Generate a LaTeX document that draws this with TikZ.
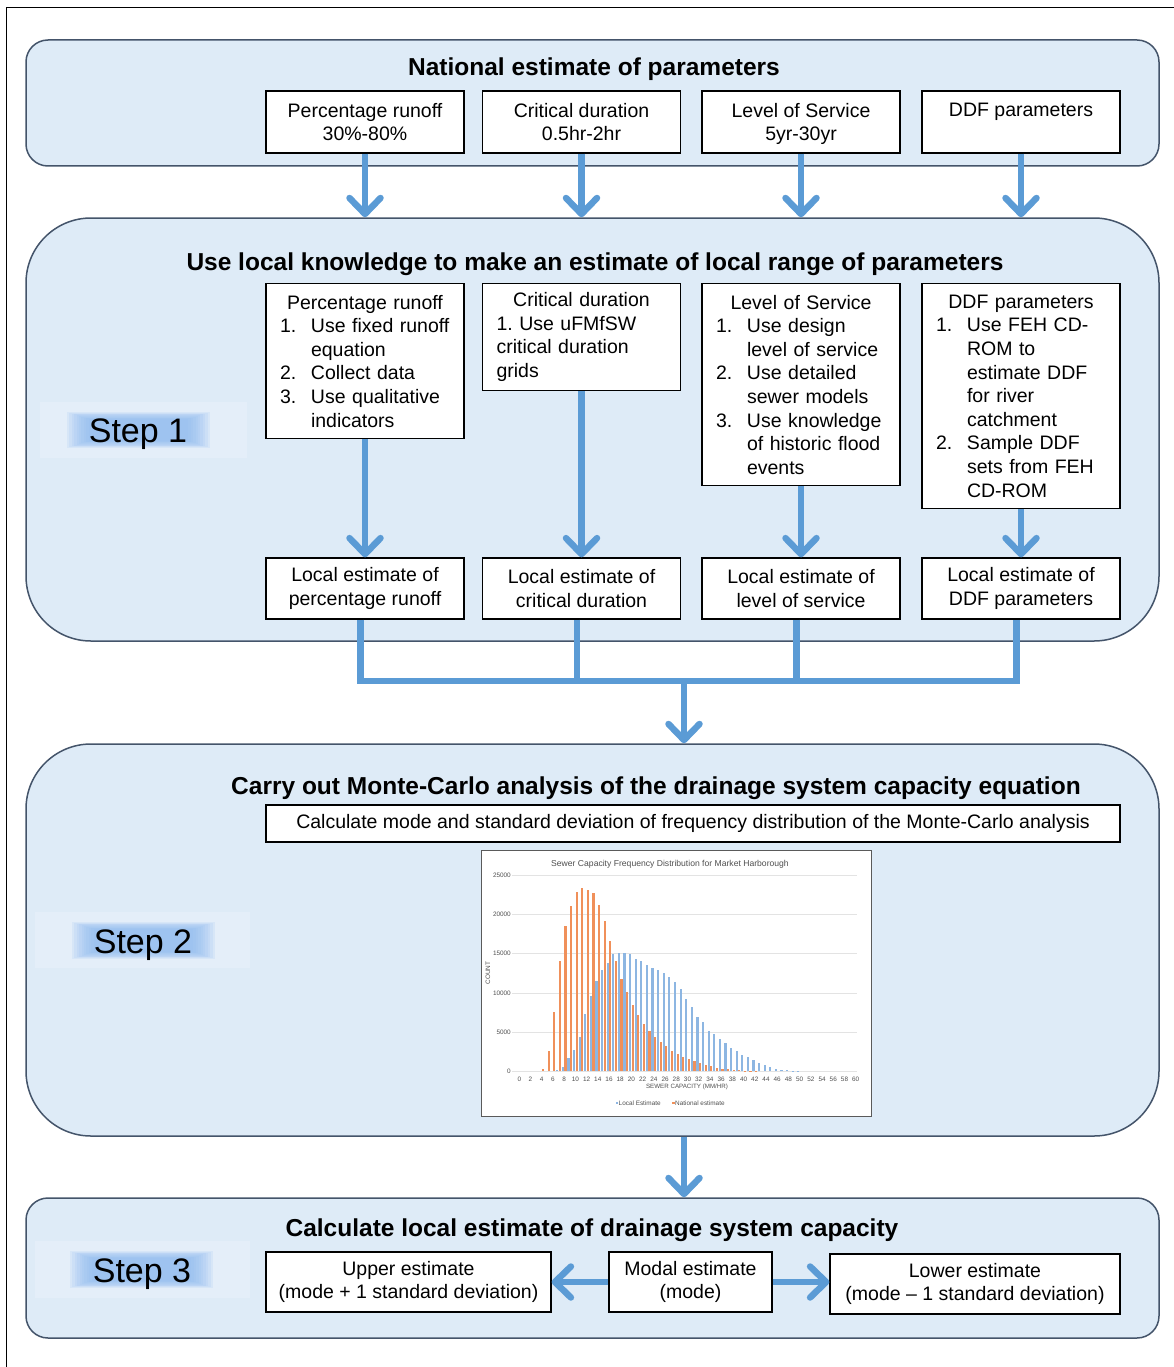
\documentclass[tikz,border=0pt]{standalone}
\usepackage{fontspec}
\setmainfont{Liberation Sans}
\usetikzlibrary{arrows.meta}
\definecolor{panelfill}{HTML}{DEEBF7}
\definecolor{paneldraw}{HTML}{44546A}
\definecolor{arrowblue}{HTML}{5B9BD5}
\definecolor{glowblue}{HTML}{8DBBF0}
\definecolor{glowouter}{HTML}{E4EEF9}
\definecolor{barblue}{HTML}{8DB6E2}
\definecolor{barorange}{HTML}{F0905A}
\definecolor{gridgray}{HTML}{E3E3E3}
\definecolor{chartborder}{HTML}{5A5A5A}
\definecolor{charttext}{HTML}{505050}
\newcommand\boxctr[1]{\makebox[198pt]{#1}}
\newcommand\boxitem[2]{\hspace*{14pt}\makebox[31pt][l]{#1}#2}
\newcommand\boxcont[1]{\hspace*{45pt}#1}
\newcommand\nodepth[1]{\raisebox{0pt}[\height][0pt]{#1}}
\tikzset{
  panel/.style={draw=paneldraw, line width=1.5pt, fill=panelfill, inner sep=0pt, minimum width=1133pt},
  box/.style={draw=black, line width=1.3pt, fill=white, inner sep=0pt, minimum width=198pt,
    font=\fontsize{19.5}{23.6}\selectfont, align=center},
  listbox/.style={box, text width=198pt, align=left},
  ptitle/.style={font=\fontsize{24.5}{29}\selectfont\bfseries, inner sep=0pt, anchor=base},
  steplabel/.style={font=\fontsize{34}{40}\selectfont, inner sep=0pt, anchor=base},
  conn/.style={draw=arrowblue, line width=6.5pt},
  flow/.style={conn, -{Straight Barb[length=16pt,width=31pt,round]}},
  tiny/.style={font=\fontsize{6.4}{7.5}\selectfont, text=charttext, inner sep=0pt},
  glowlayer/.style={fill=glowblue, opacity=0.14}
}
\begin{document}
\begin{tikzpicture}[x=1pt,y=-1pt]
\useasboundingbox (0,0) rectangle (1174,1367);
% outer frame
\draw[line width=1pt] (6,1367) -- (6,8) -- (1174,8);

% panels
\node[panel, minimum height=126pt, rounded corners=22pt] (p1) at (592.5,103) {};
\node[panel, minimum height=423pt, rounded corners=65pt] (p2) at (592.5,429.5) {};
\node[panel, minimum height=392pt, rounded corners=65pt] (p3) at (592.5,940) {};
\node[panel, minimum height=140pt, rounded corners=22pt] (p4) at (592.5,1268) {};

% titles
\node[ptitle] (t1) at (594,76) {National estimate of parameters};
\node[ptitle] (t2) at (595,270) {Use local knowledge to make an estimate of local range of parameters};
\node[ptitle] (t3) at (656,794) {Carry out Monte-Carlo analysis of the drainage system capacity equation};
\node[ptitle] (t4) at (592,1236) {Calculate local estimate of drainage system capacity};

% step labels
\fill[glowouter] (40,402) rectangle (247,458);
\foreach \i in {0,...,9} \fill[glowlayer] ({67+2.4*\i},{412+0.8*\i}) rectangle ({210-2.4*\i},{448-0.8*\i});
\node[steplabel] (s1) at (138,442) {Step 1};
\fill[glowouter] (35,912) rectangle (250,968);
\foreach \i in {0,...,9} \fill[glowlayer] ({72+2.4*\i},{922+0.8*\i}) rectangle ({215-2.4*\i},{959-0.8*\i});
\node[steplabel] (s2) at (143,953) {Step 2};
\fill[glowouter] (35,1241) rectangle (250,1298);
\foreach \i in {0,...,9} \fill[glowlayer] ({70+2.4*\i},{1251+0.8*\i}) rectangle ({213-2.4*\i},{1288-0.8*\i});
\node[steplabel] (s3) at (142,1282) {Step 3};

% row 1
\node[box, minimum height=62pt] (n1) at (365,122) {Percentage runoff\\30\%-80\%};
\node[box, minimum height=62pt] (n2) at (581.5,122) {Critical duration\\0.5hr-2hr};
\node[box, minimum height=62pt] (n3) at (801,122) {Level of Service\\\nodepth{5yr-30yr}};
\node[box, minimum height=62pt] (n4) at (1021,122) {DDF parameters\\\phantom{30\%-80\%}};

% row 2
\node[listbox, minimum height=155pt, anchor=north] (l1) at (365,283)
  {\boxctr{Percentage runoff}\\\boxitem{1.}{Use fixed runoff}\\\boxcont{equation}\\\boxitem{2.}{Collect data}\\\boxitem{3.}{Use qualitative}\\\boxcont{indicators}};
\node[listbox, minimum height=107pt, anchor=north] (l2) at (581.5,283)
  {\boxctr{Critical duration}\\\hspace*{14pt}1.\ Use uFMfSW\\\hspace*{14pt}critical duration\\\hspace*{14pt}grids};
\node[listbox, minimum height=202pt, anchor=north] (l3) at (801,283)
  {\boxctr{Level of Service}\\\boxitem{1.}{Use design}\\\boxcont{level of service}\\\boxitem{2.}{Use detailed}\\\boxcont{sewer models}\\\boxitem{3.}{Use knowledge}\\\boxcont{of historic flood}\\\boxcont{events}};
\node[listbox, minimum height=225pt, anchor=north] (l4) at (1021,283)
  {\boxctr{DDF parameters}\\\boxitem{1.}{Use FEH CD-}\\\boxcont{ROM to}\\\boxcont{estimate DDF}\\\boxcont{for river}\\\boxcont{catchment}\\\boxitem{2.}{Sample DDF}\\\boxcont{sets from FEH}\\\boxcont{CD-ROM}};

% row 3
\node[box, minimum height=61pt] (r1) at (365,588.5) {Local estimate of\\percentage runoff};
\node[box, minimum height=61pt] (r2) at (581.5,588.5) {Local estimate of\\critical duration};
\node[box, minimum height=61pt] (r3) at (801,588.5) {Local estimate of\\level of service};
\node[box, minimum height=61pt] (r4) at (1021,588.5) {Local estimate of\\DDF parameters};

% arrows row1 -> panel 2
\draw[flow] (n1.south) -- (n1.south |- p2.north);
\draw[flow] (n2.south) -- (n2.south |- p2.north);
\draw[flow] (n3.south) -- (n3.south |- p2.north);
\draw[flow] (n4.south) -- (n4.south |- p2.north);
% arrows row2 -> row3
\draw[flow] (l1.south) -- (r1.north);
\draw[flow] (l2.south) -- (r2.north);
\draw[flow] (l3.south) -- (r3.north);
\draw[flow] (l4.south) -- (r4.north);

% collector
\coordinate (bus) at (684,681);
\draw[conn, line join=miter] ([xshift=-4.5pt]r1.south) -- ([xshift=-4.5pt]r1.south |- bus)
  -- ([xshift=-4.5pt]r4.south |- bus) -- ([xshift=-4.5pt]r4.south);
\draw[conn] ([xshift=-4.5pt]r2.south) -- ([xshift=-4.5pt]r2.south |- bus);
\draw[conn] ([xshift=-4.5pt]r3.south) -- ([xshift=-4.5pt]r3.south |- bus);
\draw[flow] (bus) -- (bus |- p3.north);

% step 2 content
\node[box, minimum width=854pt, minimum height=37pt] (calc) at (693,823.5)
  {Calculate mode and standard deviation of frequency distribution of the Monte-Carlo analysis};

% chart
\node[draw=chartborder, line width=1pt, fill=white, minimum width=390pt, minimum height=266pt, inner sep=0pt] (chart) at (676,983) {};
\foreach \k in {0,...,5} \draw[gridgray, line width=0.7pt] (512,{1071.3-39.2*\k}) -- (857,{1071.3-39.2*\k});
\foreach \k/\t in {0/0,1/5000,2/10000,3/15000,4/20000,5/25000}
  \node[tiny, anchor=east] at (511,{1071.3-39.2*\k}) {\t};
\foreach \c in {0,2,...,60}
  \node[tiny] at ({519.3+5.607*\c},1079) {\c};
\foreach \c/\h in {7/0.20,8/0.55,9/1.74,10/2.72,11/4.38,12/7.32,13/9.65,14/11.53,15/12.97,16/13.82,17/14.93,18/15.14,19/15.05,20/15.01,21/14.37,22/14.12,23/13.60,24/13.14,25/12.88,26/12.54,27/12.03,28/11.35,29/10.46,30/9.27,31/8.21,32/6.97,33/6.34,34/5.15,35/4.76,36/4.17,37/3.66,38/2.98,39/2.60,40/2.08,41/1.79,42/1.40,43/1.02,44/0.77,45/0.51,46/0.34,47/0.20,48/0.13,49/0.07,50/0.03}
  \fill[barblue] ({519.3+5.607*\c-2.4},1071.3) rectangle ({519.3+5.607*\c-0.2},{1071.3-7.84*\h});
\foreach \c/\h in {4/0.34,5/2.55,6/7.57,7/14.03,8/18.54,9/21.05,10/22.88,11/23.39,12/23.09,13/22.80,14/21.17,15/19.22,16/16.58,17/14.07,18/11.78,19/10.12,20/8.42,21/7.19,22/6.08,23/5.19,24/4.38,25/3.79,26/3.23,27/2.55,28/2.25,29/1.83,30/1.57,31/1.28,32/1.02,33/0.81,34/0.64,35/0.47,36/0.34,37/0.25,38/0.18,39/0.12,40/0.08,41/0.05,42/0.03}
  \fill[barorange] ({519.3+5.607*\c+0.2},1071.3) rectangle ({519.3+5.607*\c+2.4},{1071.3-7.84*\h});
\node[font=\fontsize{8.6}{10}\selectfont, text=charttext, inner sep=0pt] (ctitle) at (670,864) {Sewer Capacity Frequency Distribution for Market Harborough};
\node[tiny, font=\fontsize{6.2}{7}\selectfont] (xlab) at (687,1087) {SEWER CAPACITY (MM/HR)};
\node[tiny, rotate=90] (ylab) at (488,973) {COUNT};
\fill[barblue] (615.5,1101.5) rectangle (618,1104);
\node[tiny, anchor=west] (leg1) at (618.5,1103) {Local Estimate};
\fill[barorange] (672,1101.5) rectangle (674.5,1104);
\node[tiny, anchor=west] (leg2) at (675,1103) {National estimate};

% arrow to panel 4
\draw[flow] (p3.south -| bus) -- (p4.north -| bus);

% step 3 boxes
\node[box, minimum width=285pt, minimum height=60pt] (up) at (408.5,1282) {Upper estimate\\(mode + 1 standard deviation)};
\node[box, minimum width=163pt, minimum height=60pt] (mo) at (690.5,1282) {Modal estimate\\(mode)};
\node[box, minimum width=290pt, minimum height=60pt] (lo) at (975,1284) {Lower estimate\\(mode -- 1 standard deviation)};
\draw[flow] (mo.west) -- (up.east);
\draw[flow] (mo.east) -- (lo.west |- mo.east);
\end{tikzpicture}
\end{document}
